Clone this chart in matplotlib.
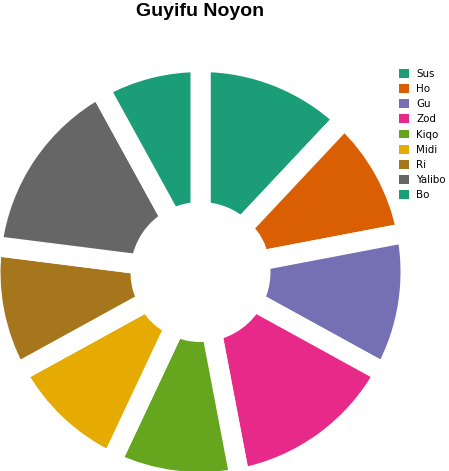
import matplotlib
matplotlib.use("Agg")
import matplotlib.pyplot as plt
from matplotlib.patches import Patch

labels = ["Sus", "Ho", "Gu", "Zod", "Kiqo", "Midi", "Ri", "Yalibo", "Bo"]
values = [12, 10, 11, 14, 10, 10, 10, 15, 8]
colors = ["#1b9e77", "#d95f02", "#7570b3", "#e7298a", "#66a61e",
          "#e6ab02", "#a6761d", "#666666", "#1b9e77"]
title = "Guyifu Noyon"

plt.rcParams['font.family'] = ['Liberation Sans', 'DejaVu Sans']

W, H = 449, 471
fig = plt.figure(figsize=(W / 100, H / 100), dpi=100)
cx, cy, R = 200.5, 272, 200
ax = fig.add_axes([(cx - R) / W, (H - cy - R) / H, 2 * R / W, 2 * R / H])

gap_px = 20
lw_pt = gap_px * 72 / 100
outer = (R + gap_px / 2) / R
inner = (70 - gap_px / 2) / R
ax.pie(values, colors=colors, startangle=90, counterclock=False,
       radius=outer, frame=True,
       wedgeprops=dict(width=outer - inner, edgecolor='white', linewidth=lw_pt))
ax.set_xlim(-1, 1)
ax.set_ylim(-1, 1)
ax.set_aspect('equal')
ax.axis('off')

fig.text(cx / W, 1 - 11 / H, title, ha='center', va='center',
         fontsize=14, fontweight='bold', color='#000000')

handles = [Patch(facecolor=c, edgecolor='none') for c in colors]
leg = fig.legend(handles, labels, loc='upper left',
                 bbox_to_anchor=(399 / W, 1 - 69 / H), frameon=False,
                 prop=dict(family='DejaVu Sans', size=7.4),
                 handlelength=0.95, handleheight=0.95,
                 handletextpad=0.75, labelspacing=0.5, borderpad=0,
                 borderaxespad=0)

fig.savefig("out.png", dpi=100)
